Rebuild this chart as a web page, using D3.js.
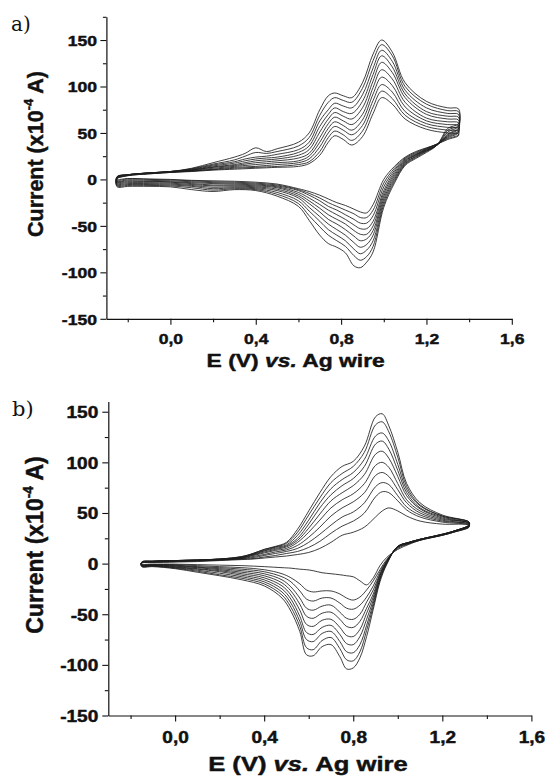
<!DOCTYPE html>
<html>
<head>
<meta charset="utf-8">
<script src="https://cdn.jsdelivr.net/npm/d3@7"></script>
<style>
  html, body { margin: 0; padding: 0; background: #ffffff; }
  svg { display: block; }
</style>
</head>
<body>
<svg id="fig" width="547" height="778"></svg>
<script>
// ---------- shared axis labels ----------
const yMajorTicks = [-150, -100, -50, 0, 50, 100, 150];
const yTickLabels = ["-150", "-100", "-50", "0", "50", "100", "150"];
const yMinorTicks = [-125, -75, -25, 25, 75, 125, 175];
const xMajorTicks = [0.0, 0.4, 0.8, 1.2, 1.6];
const xTickLabels = ["0,0", "0,4", "0,8", "1,2", "1,6"];
const xMinorTicks = [-0.2, 0.2, 0.6, 1.0, 1.4];
const cycleCount = 10;

// ---------- panel a: potentials (V) of the anodic and cathodic sweeps ----------
const aForwardE = [-0.25, -0.2, -0.1, 0.0, 0.1, 0.2, 0.3, 0.35, 0.4, 0.45, 0.5, 0.6, 0.65,
                   0.7, 0.74, 0.77, 0.81, 0.85, 0.9, 0.95, 0.99, 1.04, 1.1, 1.2, 1.3, 1.35];
// current (x10^-4 A), one row per potential, columns = cycles 1..10
const aForwardI = [
  [1, 1, 1.5, 1.5, 2, 2, 2.5, 2.5, 3, 3],
  [4, 4, 4.5, 4.5, 4.5, 5, 5, 5, 5, 5],
  [6, 6, 6.5, 6.5, 6.5, 7, 7, 7, 7, 7],
  [7.5, 7.5, 8, 8, 8, 8, 8.5, 8.5, 8.5, 8.5],
  [8.5, 9, 9, 9.5, 10, 10, 10.5, 11, 11.5, 12],
  [10, 10.5, 11, 12, 13, 13.5, 14.5, 15.5, 16.5, 18],
  [11, 12, 13, 14, 15, 16, 17.5, 19, 21, 24],
  [11.5, 12.5, 13.5, 15, 16.5, 18, 20, 22, 25, 28],
  [12, 13, 14, 16, 18, 20, 22, 24, 29, 34],
  [12.5, 13.5, 15, 17, 19, 21, 23, 25, 28, 30],
  [13, 14, 16, 18, 20, 22, 24, 27, 30, 33],
  [14, 16, 18, 20, 23, 26, 29, 32, 36, 40],
  [17, 19, 22, 25, 28, 32, 36, 40, 45, 50],
  [26, 30, 35, 40, 45, 51, 57, 63, 69, 75],
  [40, 45, 50, 55, 60, 65, 70, 75, 83, 90],
  [47, 52, 57, 62, 67, 72, 77, 82, 88, 93],
  [43, 48, 53, 58, 63, 68, 73, 79, 85, 90],
  [37, 42, 48, 53, 59, 65, 71, 77, 83, 88],
  [46, 52, 58, 64, 70, 77, 84, 91, 98, 104],
  [71, 78, 85, 92, 99, 106, 113, 120, 128, 135],
  [88, 95, 102, 110, 118, 126, 133, 139, 145, 150],
  [81, 87, 94, 101, 108, 115, 121, 127, 133, 137],
  [65, 69, 73, 78, 83, 88, 92, 96, 100, 104],
  [54, 57, 60, 63, 66, 70, 73, 77, 81, 84],
  [50, 53, 56, 59, 62, 65, 68, 71, 74, 77],
  [49, 52, 55, 58, 61, 64, 67, 70, 73, 76]
];
const aReverseE = [1.35, 1.3, 1.25, 1.2, 1.15, 1.1, 1.05, 1.0, 0.95, 0.92, 0.89, 0.86, 0.82,
                   0.78, 0.74, 0.7, 0.65, 0.6, 0.5, 0.4, 0.3, 0.2, 0.1, 0.0, -0.1, -0.2, -0.25];
const aReverseI = [
  [47, 48, 50, 51, 52, 54, 55, 57, 58, 60],
  [43, 44, 45, 46, 47, 48, 49, 51, 53, 55],
  [38, 38, 38, 38, 37, 37, 37, 37, 37, 37],
  [34, 33.5, 33, 32.5, 32, 31.5, 31, 30.5, 30, 29],
  [30, 29, 28, 27, 26.5, 26, 25, 24.5, 23.5, 22.5],
  [24, 23, 22, 21, 20, 19, 18, 17, 16, 15],
  [14, 12, 10, 8, 6, 4, 2, 0, -2, -4],
  [0, -4, -8, -12, -15, -18, -21, -24, -27, -30],
  [-27, -33, -39, -45, -50, -55, -60, -66, -72, -78],
  [-36, -41, -47, -53, -59, -64, -70, -76, -83, -89],
  [-35, -41, -47, -53, -59, -66, -73, -80, -87, -95],
  [-32, -37, -43, -49, -55, -61, -68, -75, -82, -93],
  [-28, -33, -38, -43, -48, -54, -60, -66, -72, -79],
  [-25, -29, -33, -38, -43, -48, -54, -60, -66, -73],
  [-21, -25, -29, -33, -38, -43, -48, -54, -60, -69],
  [-17, -20, -23, -27, -31, -35, -40, -45, -51, -60],
  [-13, -15, -17, -20, -23, -26, -30, -34, -39, -44],
  [-10, -11, -12, -14, -16, -18, -20, -23, -26, -29],
  [-5, -6, -7, -8, -9, -10.5, -12, -14, -16, -18],
  [-3, -4, -5, -6, -7, -8, -9, -10, -11, -12],
  [-2, -3, -4, -5, -6, -7, -8, -9, -10, -11],
  [-1.5, -2.5, -3.5, -4.5, -6, -7, -8.5, -10, -11.5, -13],
  [-1, -1.5, -2.5, -3.5, -4.5, -5.5, -6.5, -7.5, -9, -11],
  [0, -0.5, -1.5, -2.5, -3, -4, -5, -6, -7, -8],
  [0.5, 0, -1, -2, -2.5, -3.5, -4.5, -5.5, -6.5, -7.5],
  [1, 0.5, -0.5, -1.5, -2.5, -3.5, -4.5, -5.5, -6.5, -7.5],
  [0, -1, -2, -2.5, -3, -4, -5, -6, -7, -8]
];

// ---------- panel b ----------
const bForwardE = [-0.15, -0.1, 0.0, 0.1, 0.2, 0.3, 0.35, 0.4, 0.45, 0.5, 0.55, 0.6, 0.65,
                   0.7, 0.75, 0.8, 0.85, 0.9, 0.93, 0.96, 1.0, 1.04, 1.1, 1.2, 1.32];
const bForwardI = [
  [0.5, 0.5, 1, 1, 1, 1, 1, 1.5, 1.5, 1.5],
  [1, 1.5, 1.5, 2, 2, 2, 2, 2.5, 2.5, 2.5],
  [1.5, 2, 2, 2.5, 2.5, 3, 3, 3, 3, 3],
  [2, 2.5, 3, 3, 3, 3.5, 3.5, 3.5, 3.5, 3.5],
  [3, 3.5, 3.5, 4, 4, 4, 4.5, 4.5, 4.5, 4.5],
  [4, 4.5, 5, 5, 5.5, 6, 6, 6.5, 7, 7],
  [4.5, 5, 6, 7, 8, 8.5, 9, 9.5, 10, 10],
  [5.5, 6.5, 8, 9, 10.5, 11.5, 12.5, 13, 14, 14],
  [6.5, 8, 10, 11.5, 13, 14, 15, 16, 16.5, 17],
  [7.5, 10, 12, 13.5, 15, 16.5, 17.5, 18.5, 20, 21],
  [9, 12, 15, 18, 21, 23, 25, 28, 31, 34],
  [11, 16, 21, 26, 31, 35, 39, 43, 48, 52],
  [15, 22, 29, 36, 43, 49, 55, 60, 65, 70],
  [21, 30, 38, 47, 55, 62, 68, 74, 80, 86],
  [28, 37, 46, 55, 63, 70, 77, 83, 89, 96],
  [31, 42, 51, 61, 69, 77, 84, 90, 96, 101],
  [36, 50, 60, 70, 79, 88, 96, 103, 110, 116],
  [46, 66, 76, 87, 97, 108, 118, 126, 137, 145],
  [52, 71, 80, 90, 100, 111, 121, 129, 140, 148],
  [55, 70, 78, 86, 95, 104, 113, 121, 130, 136],
  [52, 62, 67, 73, 79, 86, 92, 98, 105, 110],
  [47, 53, 56, 60, 63, 67, 70, 73, 76, 79],
  [42, 46, 48, 50, 52, 54, 55, 57, 58, 60],
  [39, 41, 42, 43, 44, 45, 46, 47, 47, 48],
  [38, 38, 39, 39, 40, 40, 40, 41, 41, 41]
];
const bReverseE = [1.32, 1.25, 1.2, 1.1, 1.05, 1.0, 0.95, 0.92, 0.89, 0.86, 0.83, 0.8, 0.77, 0.74,
                   0.7, 0.66, 0.62, 0.59, 0.56, 0.52, 0.48, 0.4, 0.3, 0.2, 0.1, 0.0, -0.1, -0.15];
const bReverseI = [
  [36, 36, 37, 37, 37, 38, 38, 38, 38, 38],
  [31, 31, 31, 31.5, 31.5, 32, 32, 32, 32, 32],
  [28, 28, 28, 28.5, 28.5, 28.5, 29, 29, 29, 29],
  [23, 23, 23.5, 23.5, 23.5, 24, 24, 24, 24, 24],
  [19, 19.5, 20, 20, 20.5, 20.5, 21, 21, 21, 21],
  [14, 15, 16, 16, 16.5, 17, 17, 17, 17, 17],
  [6, 4, 3, 2, 2, 1, 1, 0, 0, -1],
  [-2, -6, -8, -10, -11, -12, -14, -15, -16, -18],
  [-14, -17, -22, -26, -30, -33, -36, -39, -42, -45],
  [-21, -26, -33, -38, -44, -49, -55, -61, -66, -72],
  [-17, -33, -41, -50, -57, -65, -72, -80, -87, -93],
  [-13, -36, -45, -55, -63, -72, -80, -88, -96, -103],
  [-12, -34, -44, -54, -62, -71, -79, -87, -95, -104],
  [-11, -30, -39, -48, -55, -63, -70, -77, -84, -92],
  [-10, -27, -34, -41, -48, -55, -61, -67, -73, -80],
  [-9, -27, -34, -42, -49, -56, -63, -69, -76, -82],
  [-7, -28, -37, -46, -54, -62, -70, -77, -85, -91],
  [-6, -26, -35, -44, -52, -60, -68, -75, -83, -90],
  [-5.5, -20, -27, -34, -40, -46, -52, -57, -62, -67],
  [-4.5, -14, -18, -23, -27, -31, -35, -39, -43, -47],
  [-4, -10, -13, -16, -19, -22, -25, -28, -31, -34],
  [-3, -6, -8, -10, -12, -14, -16, -18, -20, -22],
  [-2, -4, -5.5, -7, -8.5, -10, -11.5, -13, -14.5, -16],
  [-1.5, -3, -4, -5, -6, -7, -8, -9.5, -11, -12],
  [-1, -2, -3, -3.5, -4, -5, -5.5, -6.5, -7.5, -8.5],
  [-0.5, -1, -1.5, -2, -2.5, -3, -3.5, -4, -4.5, -5],
  [-0.5, -1, -1, -1.5, -1.5, -2, -2, -2.5, -2.5, -3],
  [-0.5, -1, -1, -1.5, -1.5, -2, -2, -2.5, -2.5, -3]
];

// ---------- drawing ----------
const svg = d3.select("#fig");
const sansFont = "'Liberation Sans', Arial, Helvetica, sans-serif";
const serifFont = "'DejaVu Serif', 'Liberation Serif', serif";
const ink = "#111";

// one closed voltammogram per cycle: anodic sweep then cathodic sweep back
function cycleLoop(fE, fI, rE, rI, k) {
  const pts = fE.map((e, i) => [e, fI[i][k]]);
  rE.forEach((e, i) => pts.push([e, rI[i][k]]));
  return pts;
}

// bold sans text with a hairline outline to give the heavy look of the labels
function heavyText(sel, size) {
  return sel.attr("font-family", sansFont).attr("font-weight", "bold")
    .attr("font-size", size).attr("fill", ink)
    .attr("stroke", ink).attr("stroke-width", 0.45)
    .attr("paint-order", "stroke").attr("stroke-linejoin", "round");
}

function drawPanel(p) {
  const x = d3.scaleLinear().domain([-0.3, 1.6]).range(p.xRange);
  const y = d3.scaleLinear().domain(p.yDomain).range(p.yRange);
  const g = svg.append("g");

  const line = d3.line()
    .x(d => x(d[0]))
    .y(d => y(d[1]))
    .curve(d3.curveCatmullRomClosed.alpha(0.5));

  const loops = d3.range(cycleCount).map(k => cycleLoop(p.fE, p.fI, p.rE, p.rI, k));
  g.append("g").selectAll("path").data(loops).join("path")
    .attr("d", line)
    .attr("fill", "none")
    .attr("stroke", "#1e1e1e")
    .attr("stroke-width", 0.85)
    .attr("stroke-linejoin", "round");

  const y0 = p.yRange[0];
  const x0 = p.xRange[0];

  // y axis: major ticks with labels, then minor ticks
  const gy = g.append("g").attr("transform", `translate(${x0},0)`)
    .call(d3.axisLeft(y).tickValues(yMajorTicks).tickSize(6).tickSizeOuter(0)
      .tickFormat((d, i) => yTickLabels[i]));
  g.append("g").attr("transform", `translate(${x0},0)`)
    .call(d3.axisLeft(y).tickValues(yMinorTicks.filter(v => v <= p.yDomain[1]))
      .tickSize(3.5).tickSizeOuter(0).tickFormat(""))
    .call(s => s.select(".domain").remove());

  // x axis
  const gx = g.append("g").attr("transform", `translate(0,${y0})`)
    .call(d3.axisBottom(x).tickValues(xMajorTicks).tickSize(6).tickSizeOuter(0)
      .tickFormat((d, i) => xTickLabels[i]));
  g.append("g").attr("transform", `translate(0,${y0})`)
    .call(d3.axisBottom(x).tickValues(xMinorTicks).tickSize(3.5).tickSizeOuter(0).tickFormat(""))
    .call(s => s.select(".domain").remove());

  g.selectAll(".domain").attr("stroke", ink).attr("stroke-width", 1.2);
  g.selectAll(".tick line").attr("stroke", ink).attr("stroke-width", 1.1);

  heavyText(gy.selectAll(".tick text"), p.tickSize)
    .attr("x", 0).attr("dy", "0.36em")
    .attr("transform", `translate(${-p.yLabelGap},0) scale(${p.stretch},1)`);
  heavyText(gx.selectAll(".tick text"), p.tickSize)
    .attr("y", 0).attr("dy", 0)
    .attr("transform", `translate(0,${p.xLabelDrop}) scale(${p.stretch},1)`);

  // y title
  const yt = heavyText(g.append("text"), p.yTitleSize)
    .attr("transform", `translate(${p.yTitleX},${p.yTitleY}) rotate(-90)`)
    .attr("text-anchor", "middle");
  yt.append("tspan").text("Current (x10");
  yt.append("tspan").attr("font-size", "0.6em").attr("dy", "-0.75em").text("-4");
  yt.append("tspan").attr("dy", "0.45em").text(" A)");

  // x title
  const xt = heavyText(g.append("text"), p.xTitleSize)
    .attr("transform", `translate(${p.xTitleX},${p.xTitleY}) scale(${p.titleStretch},1)`)
    .attr("text-anchor", "middle");
  xt.append("tspan").text("E (V) ");
  xt.append("tspan").attr("font-style", "italic").text("vs.");
  xt.append("tspan").text(" Ag wire");

  // panel letter
  g.append("text")
    .attr("x", p.letterX).attr("y", p.letterY)
    .attr("font-family", serifFont).attr("font-size", p.letterSize).attr("fill", ink)
    .text(p.letter);
}

drawPanel({
  letter: "a)", letterX: 11, letterY: 31, letterSize: 20,
  fE: aForwardE, fI: aForwardI, rE: aReverseE, rI: aReverseI,
  xRange: [106.4, 511.8], yDomain: [-150, 175], yRange: [318.8, 16.8],
  tickSize: 15, stretch: 1.17, yLabelGap: 9.5, xLabelDrop: 25,
  yTitleX: 42.5, yTitleY: 154, yTitleSize: 21.5,
  xTitleX: 295.7, xTitleY: 366.5, xTitleSize: 18.6, titleStretch: 1.23
});

drawPanel({
  letter: "b)", letterX: 12, letterY: 416, letterSize: 21,
  fE: bForwardE, fI: bForwardI, rE: bReverseE, rI: bReverseI,
  xRange: [108.3, 531.4], yDomain: [-150, 160], yRange: [715.5, 401.6],
  tickSize: 16.3, stretch: 1.17, yLabelGap: 10, xLabelDrop: 27.5,
  yTitleX: 43, yTitleY: 545, yTitleSize: 23,
  xTitleX: 308, xTitleY: 771, xTitleSize: 20, titleStretch: 1.28
});
</script>
</body>
</html>
